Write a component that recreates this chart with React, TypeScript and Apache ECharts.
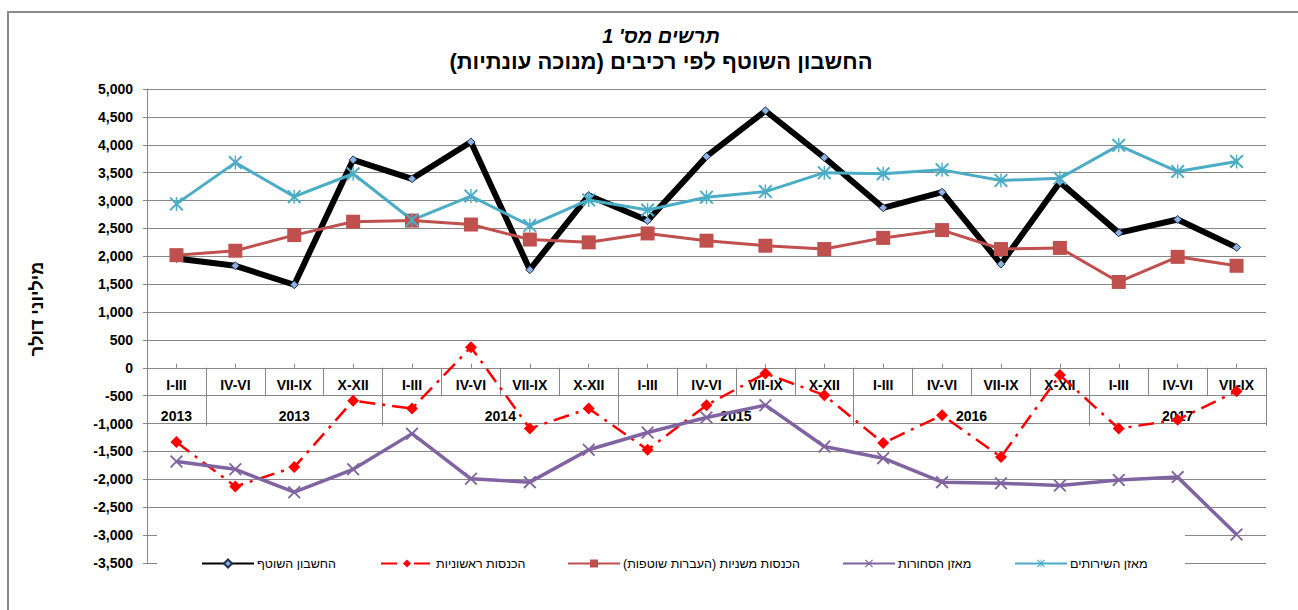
import React, { useEffect, useRef } from "react";
import * as echarts from "echarts";

// ---------- data ----------
const quarters = [
  "I-III", "IV-VI", "VII-IX", "X-XII",
  "I-III", "IV-VI", "VII-IX", "X-XII",
  "I-III", "IV-VI", "VII-IX", "X-XII",
  "I-III", "IV-VI", "VII-IX", "X-XII",
  "I-III", "IV-VI", "VII-IX",
];
const yearLabels = ["2013", "2013", "2014", "2015", "2016", "2017"];
const yearSpans = [1, 3, 4, 4, 4, 3];

const currentAccount = [1960, 1830, 1490, 3730, 3390, 4050, 1760, 3090, 2640, 3790, 4610, 3770, 2870, 3150, 1860, 3330, 2420, 2660, 2160];
const primaryIncome = [-1330, -2130, -1780, -590, -730, 370, -1090, -730, -1470, -670, -100, -490, -1350, -850, -1600, -130, -1090, -930, -420];
const secondaryIncome = [2020, 2100, 2380, 2620, 2640, 2570, 2300, 2250, 2410, 2280, 2190, 2130, 2330, 2470, 2130, 2150, 1540, 1990, 1830];
const goodsBalance = [-1680, -1820, -2230, -1820, -1180, -1990, -2050, -1470, -1160, -890, -670, -1410, -1620, -2050, -2070, -2110, -2010, -1960, -2990];
const servicesBalance = [2940, 3680, 3070, 3480, 2650, 3080, 2550, 3010, 2830, 3060, 3160, 3500, 3480, 3550, 3360, 3400, 3990, 3520, 3700];

const seriesNames = [
  "החשבון השוטף",
  "הכנסות ראשוניות",
  "הכנסות משניות (העברות שוטפות)",
  "מאזן הסחורות",
  "מאזן השירותים",
];

const yMin = -3500;
const yMax = 5000;
const yStep = 500;

const titleLine1 = "תרשים מס' 1";
const titleLine2 = "החשבון השוטף לפי רכיבים (מנוכה עונתיות)";
const yAxisTitle = "מיליוני דולר";

// ---------- styles / layout ----------
const FONT = "'Liberation Sans', Arial, sans-serif";
const GRID = "#868686";
const W = 1298;
const H = 610;
const PLOT_LEFT = 147;
const PLOT_RIGHT = 32;
const PLOT_TOP = 89;
const PLOT_BOTTOM = 47;
const legendLefts = [201, 380, 567, 842, 1014];

const X_PATH =
  "path://M0,2 L2,0 L10,8 L18,0 L20,2 L12,10 L20,18 L18,20 L10,12 L2,20 L0,18 L8,10 Z";
const STAR_PATH =
  "path://M0,2 L2,0 L10,8 L18,0 L20,2 L12,10 L20,18 L18,20 L10,12 L2,20 L0,18 L8,10 Z M9,0 L11,0 L11,20 L9,20 Z";

export default function App() {
  const ref = useRef<HTMLDivElement>(null);

  useEffect(() => {
    const styleEl = document.createElement("style");
    styleEl.textContent = "svg text { unicode-bidi: plaintext; }";
    document.head.appendChild(styleEl);

    const chart = echarts.init(ref.current!, undefined, { renderer: "svg" });

    const yearBounds: number[] = [0];
    yearSpans.forEach((s, i) => yearBounds.push(yearBounds[i] + s));
    const yearCenters = yearSpans.map((s, i) => yearBounds[i] + s / 2);

    // distance of the value 0 from the bottom of the plot, from the y scale
    const plotH = H - PLOT_TOP - PLOT_BOTTOM;
    const zeroOffset = (plotH * (0 - yMin)) / (yMax - yMin);

    const fmt = (v: number) => v.toLocaleString("en-US");

    const option: any = {
      animation: false,
      backgroundColor: "#ffffff",
      textStyle: { fontFamily: FONT },
      grid: {
        left: PLOT_LEFT,
        right: PLOT_RIGHT,
        top: PLOT_TOP,
        bottom: PLOT_BOTTOM,
        containLabel: false,
        outerBoundsMode: "none",
      },
      xAxis: [
        {
          type: "category",
          data: quarters,
          boundaryGap: true,
          position: "bottom",
          offset: -zeroOffset,
          axisLine: { show: true, onZero: false, lineStyle: { color: GRID, width: 1 } },
          axisTick: { show: true, interval: 0, length: 28, inside: false, lineStyle: { color: GRID } },
          axisLabel: { interval: 0, margin: 10, color: "#000", fontWeight: "bold", fontSize: 14, fontFamily: FONT },
          splitLine: { show: false },
        },
        {
          type: "category",
          data: quarters,
          boundaryGap: true,
          position: "bottom",
          offset: -zeroOffset,
          axisLine: { show: false, onZero: false },
          axisTick: { show: true, interval: 0, alignWithLabel: true, inside: true, length: 4, lineStyle: { color: GRID } },
          axisLabel: { show: false },
          splitLine: { show: false },
        },
        {
          type: "value",
          min: 0,
          max: quarters.length,
          position: "bottom",
          offset: -zeroOffset,
          axisLine: { show: false, onZero: false },
          axisTick: { show: true, length: 58, customValues: yearBounds, lineStyle: { color: GRID } },
          axisLabel: {
            show: true,
            customValues: yearCenters,
            margin: 41,
            color: "#000",
            fontWeight: "bold",
            fontSize: 14,
            fontFamily: FONT,
            formatter: (v: number) => {
              const i = yearCenters.findIndex((c) => Math.abs(c - v) < 1e-6);
              return i >= 0 ? yearLabels[i] : "";
            },
          },
          splitLine: { show: false },
        },
      ],
      yAxis: {
        type: "value",
        min: yMin,
        max: yMax,
        interval: yStep,
        axisLine: { show: true, lineStyle: { color: GRID } },
        axisTick: { show: true, length: 4, lineStyle: { color: GRID } },
        axisLabel: { margin: 14, color: "#000", fontWeight: "bold", fontSize: 14, fontFamily: FONT, formatter: fmt },
        splitLine: { show: true, lineStyle: { color: GRID, width: 1 } },
      },
      legend: seriesNames.map((n, i) => ({
        data: [n],
        left: legendLefts[i],
        top: 557,
        itemWidth: 52,
        itemHeight: 10,
        itemGap: 0,
        padding: 0,
        selectedMode: false,
        z: 10,
        textStyle: { fontSize: 12.5, color: "#000", fontFamily: FONT, padding: [0, 0, 0, -2] },
      })),
      series: [
        {
          name: seriesNames[0],
          type: "line",
          data: currentAccount,
          symbol: "diamond",
          symbolSize: 8,
          lineStyle: { color: "#000000", width: 6 },
          itemStyle: { color: "#8db3e2", borderColor: "#1f3050", borderWidth: 1 },
        },
        {
          name: seriesNames[1],
          type: "line",
          data: primaryIncome,
          symbol: "diamond",
          symbolSize: 12,
          lineStyle: { color: "#ff0000", width: 2.5, type: [16, 7, 3, 7] },
          itemStyle: { color: "#ff0000" },
        },
        {
          name: seriesNames[2],
          type: "line",
          data: secondaryIncome,
          symbol: "rect",
          symbolSize: 14,
          lineStyle: { color: "#c0504d", width: 3 },
          itemStyle: { color: "#c0504d" },
        },
        {
          name: seriesNames[3],
          type: "line",
          data: goodsBalance,
          symbol: X_PATH,
          symbolSize: 13,
          lineStyle: { color: "#8064a2", width: 3.5 },
          itemStyle: { color: "#8064a2" },
        },
        {
          name: seriesNames[4],
          type: "line",
          data: servicesBalance,
          symbol: STAR_PATH,
          symbolSize: 14,
          lineStyle: { color: "#4bacc6", width: 3 },
          itemStyle: { color: "#4bacc6" },
        },
      ],
      graphic: [
        {
          type: "rect",
          z: 5,
          shape: { x: 157, y: 522, width: 1028, height: 56 },
          style: { fill: "#ffffff" },
          silent: true,
        },
        {
          type: "rect",
          z: 20,
          shape: { x: 8, y: 12, width: 1400, height: 700 },
          style: { fill: "none", stroke: "#8a8a8a", lineWidth: 2 },
          silent: true,
        },
        {
          type: "text",
          x: 661,
          y: 36,
          style: {
            text: titleLine1,
            fill: "#000",
            font: "italic bold 20px 'Liberation Sans', Arial, sans-serif",
            textAlign: "center",
            textVerticalAlign: "middle",
          },
        },
        {
          type: "text",
          x: 661,
          y: 61,
          style: {
            text: titleLine2,
            fill: "#000",
            font: "bold 22px 'Liberation Sans', Arial, sans-serif",
            textAlign: "center",
            textVerticalAlign: "middle",
          },
        },
        {
          type: "text",
          x: 37,
          y: 309,
          rotation: Math.PI / 2,
          style: {
            text: yAxisTitle,
            fill: "#000",
            font: "bold 18px 'Liberation Sans', Arial, sans-serif",
            textAlign: "center",
            textVerticalAlign: "middle",
          },
        },
      ],
    };

    chart.setOption(option);

    return () => {
      chart.dispose();
      styleEl.remove();
    };
  }, []);

  return (
    <div
      ref={ref}
      style={{ position: "fixed", left: 0, top: 0, width: W, height: H }}
    />
  );
}
